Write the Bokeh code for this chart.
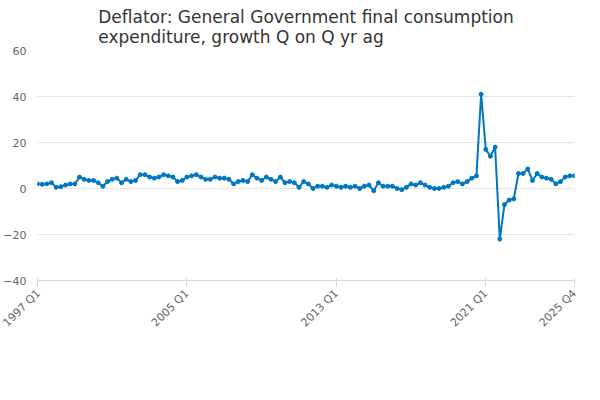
from bokeh.plotting import figure
from bokeh.models import FixedTicker, Legend, LegendItem, Title
from bokeh.embed import file_html
from bokeh.resources import INLINE
import math

quarters = [f"{y} Q{q}" for y in range(1997, 2026) for q in range(1, 5)]
values = [2,1.8,2,2.5, 0.5,0.8,1.5,2, 2,5,4,3.5, 3.5,2.5,1,3, 4,4.5,2.5,4,
          3,3.5,6,6, 5,4.5,5,6, 5.5,5,3,3.5, 5,5.5,6,5, 4,4,5,4.5,
          4.5,4,2,3, 3.5,3,6,4.5, 3.5,5,4,3, 5,2.5,3,2.5, 0.5,3,2,0,
          1,1,0.5,1.5, 1,0.5,1,0.5, 1,0,1,1.5, -1,2.5,1,1, 1,0,-0.5,0.5,
          2,1.5,2.5,1.5, 0.5,0,0,0.5, 1,2.5,3,2, 3,4.5,5.5,
          41,17,14,18,-22,-7,-5,-4.5,
          6.5,6.5,8.5,3.5,6.5,5,4.5,4,2,3,5,5.5,5.5,6,3.5]
tick_idx = [0, 32, 64, 96, 115]
x = list(range(len(values)))

p = figure(frame_width=537, frame_height=230, output_backend="svg", toolbar_location=None,
           x_range=(0, 115), y_range=(-40, 60), min_border_left=36, min_border_right=11,
           min_border_top=5, min_border_bottom=0)
p.title = None
p.add_layout(Title(text="Deflator: General Government final consumption\nexpenditure, growth Q on Q yr ag",
                   align="center", text_font_size="17px", text_font="DejaVu Sans",
                   text_font_style="normal", text_color="#333333", standoff=8), "above")
r1 = p.line(x, values, line_color="#0077C0", line_width=2)
r2 = p.scatter(x, values, size=4, color="#0077C0")
p.xaxis.ticker = FixedTicker(ticks=tick_idx)
p.xaxis.major_label_overrides = {i: quarters[i] for i in tick_idx}
p.xaxis.major_label_orientation = math.pi / 4
p.yaxis.ticker = FixedTicker(ticks=[-40, -20, 0, 20, 40, 60])
p.xgrid.grid_line_color = None
p.ygrid.grid_line_color = "#e6e6e6"
p.yaxis.axis_line_color = None
p.yaxis.major_tick_line_color = None
p.yaxis.minor_tick_line_color = None
p.xaxis.minor_tick_line_color = None
p.xaxis.axis_line_color = "#ccd6eb"
p.xaxis.major_tick_line_color = "#ccd6eb"
for ax in (p.xaxis, p.yaxis):
    ax.major_label_text_color = "#666666"
    ax.major_label_text_font_size = "11px"
    ax.major_label_text_font = "DejaVu Sans"
p.outline_line_color = None
leg = Legend(items=[LegendItem(label="Deflator: General Government final consumption expenditure, growth Q on Q yr ag",
                               renderers=[r1, r2])],
             location="center", orientation="horizontal", border_line_color=None,
             label_text_font="DejaVu Sans", label_text_font_size="12px",
             label_text_font_style="bold", label_text_color="#333333",
             padding=0, margin=0, glyph_width=16, label_standoff=3)
p.add_layout(leg, "below")
p.add_layout(Title(text="Source:", align="right", text_font_size="12px",
                   text_font="DejaVu Sans", text_font_style="normal", text_color="#666666",
                   standoff=0), "below")
open("out.html", "w").write(file_html(p, INLINE))
